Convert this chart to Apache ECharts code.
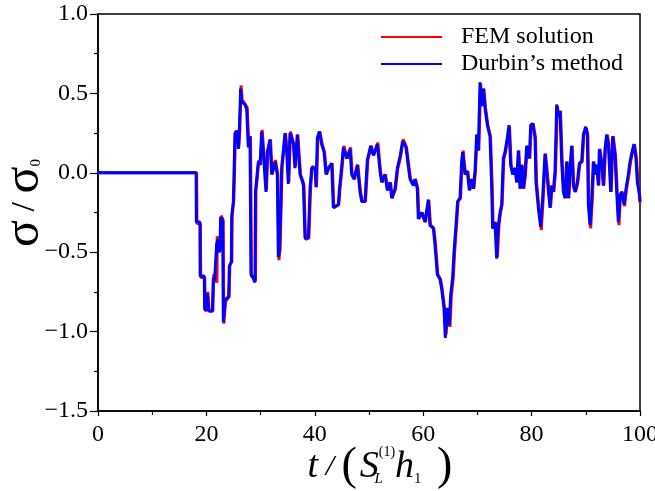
<!DOCTYPE html>
<html><head><meta charset="utf-8">
<script src="https://cdn.jsdelivr.net/npm/echarts@6/dist/echarts.min.js"></script>
<style>html,body{margin:0;padding:0;background:#fff}#c{width:655px;height:491px}</style>
</head><body><div id="c"></div>
<script>
const seriesNames = ['FEM solution', 'Durbin\u2019s method'];
const seriesColors = ['#ff0000', '#0000ff'];
const xLimits = [0, 100];
const xTickStep = 20;
const yLimits = [-1.5, 1.0];
const yTickStep = 0.5;

// Durbin's method (blue)
const durbin = [
[0,0],[18.1,0],[18.15,-0.31],[18.8,-0.31],[18.85,-0.65],[19.6,-0.65],[19.68,-0.86],[20.1,-0.86],[20.17,-0.76],[20.3,-0.76],
[20.41,-0.87],[21.1,-0.87],[21.28,-0.66],[21.5,-0.68],[21.85,-0.69],[21.89,-0.45],[22.1,-0.42],[22.3,-0.50],[22.5,-0.48],[22.63,-0.28],
[23.0,-0.30],[23.12,-0.94],[23.45,-0.80],[24.1,-0.78],[24.23,-0.59],[24.6,-0.56],[24.66,-0.28],[24.97,-0.18],[25.27,0.25],[25.7,0.26],
[25.89,0.15],[26.07,0.26],[26.32,0.53],[26.5,0.45],[27.1,0.43],[27.43,0.40],[27.73,0.16],[28.04,0.23],[28.22,-0.64],[28.6,-0.66],
[28.96,-0.69],[29.05,-0.12],[29.27,-0.04],[29.58,0.07],[29.9,0.05],[30.19,0.26],[30.5,0.13],[30.99,-0.12],[31.24,0.13],[31.73,0.21],
[32.04,-0.01],[32.65,0.07],[33.08,-0.01],[33.27,-0.53],[33.5,-0.48],[33.88,0.03],[34.5,0.25],[34.81,0.13],[35.11,-0.07],[35.42,0.25],
[36.04,0.18],[36.34,0.03],[36.77,0.24],[37.27,-0.01],[37.76,-0.06],[37.9,-0.08],[38.19,-0.41],[38.81,-0.41],[39.12,-0.10],[39.42,0.03],
[40.04,0.03],[40.22,-0.09],[40.47,0.22],[40.84,0.26],[41.27,0.18],[41.7,0.13],[42.07,-0.01],[42.5,0.03],[43.11,0.06],[43.42,-0.22],
[44.34,-0.20],[44.53,-0.11],[44.96,0.04],[45.27,0.16],[45.88,0.09],[46.5,0.15],[46.8,-0.01],[47.23,-0.04],[47.85,0.05],[48.34,-0.12],
[48.65,-0.18],[49.26,-0.18],[49.69,0.08],[50.31,0.17],[50.8,0.11],[51.54,0.18],[52.03,0.01],[52.34,-0.06],[52.95,-0.01],[53.38,-0.11],
[53.88,-0.06],[54.18,-0.16],[54.8,-0.10],[55.23,0.03],[55.72,0.10],[56.21,0.20],[56.83,0.16],[57.26,0.04],[57.57,-0.04],[58.18,-0.08],
[58.48,-0.04],[58.91,-0.10],[59.1,-0.29],[59.71,-0.25],[60.33,-0.31],[60.94,-0.17],[61.25,-0.33],[61.87,-0.35],[62.17,-0.45],[62.6,-0.64],
[63.1,-0.67],[63.4,-0.73],[63.83,-0.85],[64.08,-1.04],[64.45,-0.85],[64.82,-0.96],[65.06,-0.77],[65.43,-0.66],[65.68,-0.50],[66.05,-0.33],
[66.35,-0.18],[66.79,-0.16],[67.09,0.07],[67.28,0.13],[67.71,-0.01],[68.14,0.01],[68.51,-0.11],[68.94,-0.04],[69.25,-0.10],[69.55,0.01],
[69.86,0.24],[70.17,0.14],[70.48,0.57],[70.78,0.42],[71.09,0.53],[71.4,0.41],[71.83,0.30],[72.32,0.23],[72.63,-0.08],[72.81,-0.35],
[73.24,-0.31],[73.55,-0.54],[73.86,-0.33],[74.17,-0.25],[74.47,-0.20],[74.78,0.09],[75.09,0.13],[75.52,0.22],[75.83,0.30],[76.13,0.05],
[76.5,-0.01],[76.93,0.03],[77.24,-0.06],[77.55,0.14],[77.86,-0.10],[78.16,0.05],[78.47,-0.10],[78.78,-0.01],[79.09,0.17],[79.58,0.09],
[79.83,0.30],[80.2,0.31],[80.63,0.22],[80.81,-0.06],[81.24,-0.22],[81.67,-0.34],[82.04,-0.16],[82.47,0.12],[82.78,0.01],[83.09,-0.11],
[83.4,-0.22],[83.7,-0.08],[84.01,-0.12],[84.32,0.01],[84.63,0.43],[84.93,0.35],[85.24,0.39],[85.55,0.07],[85.86,-0.12],[86.16,-0.16],
[86.47,0.07],[86.78,-0.16],[87.09,0.03],[87.39,0.17],[87.7,-0.08],[88.01,-0.12],[88.44,-0.06],[88.81,0.06],[89.24,0.07],[89.55,0.24],
[89.98,0.29],[90.28,0.24],[90.47,-0.20],[90.78,-0.33],[91.08,-0.18],[91.39,0.07],[91.7,-0.01],[92.01,0.05],[92.31,-0.08],[92.5,0.15],
[92.93,0.05],[93.24,-0.08],[93.54,0.15],[93.85,0.24],[94.16,0.18],[94.59,-0.12],[94.96,0.23],[95.39,0.11],[95.7,-0.12],[96.0,-0.31],
[96.31,-0.14],[96.62,-0.12],[97.05,-0.20],[97.42,-0.10],[97.85,-0.01],[98.16,0.07],[98.52,0.13],[98.89,0.18],[99.26,0.09],[99.51,-0.06],
[99.88,-0.13],[100,-0.18]
];

// FEM solution (red)
const fem = [
[0,0],[18.2,0],[18.25,-0.32],[18.9,-0.32],[18.95,-0.66],[19.7,-0.66],[19.78,-0.87],[20.2,-0.86],[20.27,-0.75],[20.4,-0.76],
[20.51,-0.87],[21.2,-0.87],[21.35,-0.64],[21.6,-0.67],[21.95,-0.69],[21.99,-0.40],[22.2,-0.43],[22.4,-0.50],[22.6,-0.47],[22.73,-0.27],
[23.1,-0.30],[23.22,-0.95],[23.55,-0.81],[24.2,-0.78],[24.33,-0.58],[24.7,-0.56],[24.76,-0.27],[25.07,-0.17],[25.37,0.26],[25.8,0.26],
[25.99,0.16],[26.17,0.27],[26.4,0.55],[26.6,0.46],[27.2,0.43],[27.53,0.41],[27.83,0.17],[28.14,0.23],[28.32,-0.65],[28.7,-0.66],
[29.06,-0.68],[29.15,-0.11],[29.37,-0.04],[29.68,0.08],[30.0,0.05],[30.29,0.27],[30.6,0.13],[31.09,-0.11],[31.34,0.14],[31.83,0.21],
[32.14,-0.01],[32.75,0.08],[33.18,-0.01],[33.37,-0.55],[33.6,-0.48],[33.98,0.04],[34.6,0.25],[34.91,0.13],[35.21,-0.06],[35.52,0.26],
[36.14,0.18],[36.44,0.04],[36.87,0.24],[37.37,-0.01],[37.86,-0.06],[38.0,-0.08],[38.29,-0.42],[38.91,-0.41],[39.22,-0.10],[39.52,0.04],
[40.14,0.03],[40.32,-0.09],[40.57,0.22],[40.94,0.26],[41.37,0.18],[41.8,0.13],[42.17,-0.01],[42.6,0.03],[43.21,0.06],[43.52,-0.22],
[44.44,-0.20],[44.63,-0.11],[45.06,0.04],[45.37,0.17],[45.98,0.09],[46.6,0.16],[46.9,-0.01],[47.33,-0.04],[47.95,0.05],[48.44,-0.12],
[48.75,-0.18],[49.36,-0.18],[49.79,0.08],[50.41,0.17],[50.9,0.11],[51.64,0.19],[52.13,0.01],[52.44,-0.06],[53.05,-0.01],[53.48,-0.11],
[53.98,-0.06],[54.28,-0.16],[54.9,-0.10],[55.33,0.03],[55.82,0.10],[56.31,0.21],[56.93,0.16],[57.36,0.04],[57.67,-0.04],[58.28,-0.08],
[58.58,-0.04],[59.01,-0.10],[59.2,-0.29],[59.81,-0.25],[60.43,-0.31],[61.04,-0.17],[61.35,-0.33],[61.97,-0.35],[62.27,-0.45],[62.7,-0.64],
[63.2,-0.67],[63.5,-0.73],[63.93,-0.85],[64.2,-1.02],[64.55,-0.87],[64.95,-0.97],[65.18,-0.78],[65.55,-0.66],[65.8,-0.50],[66.15,-0.33],
[66.45,-0.18],[66.89,-0.16],[67.19,0.07],[67.38,0.14],[67.81,-0.01],[68.24,0.01],[68.61,-0.11],[69.04,-0.04],[69.35,-0.10],[69.65,0.01],
[69.96,0.24],[70.27,0.14],[70.6,0.56],[70.9,0.42],[71.2,0.53],[71.5,0.41],[71.93,0.30],[72.42,0.23],[72.73,-0.08],[72.91,-0.35],
[73.34,-0.31],[73.7,-0.53],[73.98,-0.33],[74.27,-0.25],[74.57,-0.20],[74.88,0.09],[75.19,0.13],[75.62,0.22],[75.93,0.29],[76.23,0.05],
[76.6,-0.01],[77.03,0.03],[77.34,-0.06],[77.65,0.14],[77.96,-0.10],[78.26,0.05],[78.57,-0.10],[78.88,-0.01],[79.19,0.17],[79.68,0.09],
[79.93,0.30],[80.3,0.31],[80.73,0.22],[80.91,-0.06],[81.34,-0.22],[81.79,-0.36],[82.14,-0.16],[82.57,0.12],[82.88,0.01],[83.19,-0.11],
[83.5,-0.22],[83.8,-0.08],[84.11,-0.12],[84.42,0.01],[84.75,0.42],[85.05,0.35],[85.34,0.39],[85.65,0.07],[85.96,-0.12],[86.26,-0.16],
[86.57,0.07],[86.88,-0.16],[87.19,0.03],[87.49,0.17],[87.8,-0.08],[88.11,-0.12],[88.54,-0.06],[88.91,0.06],[89.34,0.07],[89.65,0.24],
[90.1,0.28],[90.38,0.24],[90.57,-0.20],[90.9,-0.35],[91.18,-0.18],[91.49,0.07],[91.8,-0.01],[92.11,0.05],[92.41,-0.08],[92.6,0.15],
[93.03,0.05],[93.34,-0.08],[93.64,0.15],[93.95,0.24],[94.26,0.18],[94.69,-0.12],[95.06,0.23],[95.49,0.11],[95.8,-0.12],[96.12,-0.33],
[96.41,-0.14],[96.72,-0.12],[97.15,-0.21],[97.52,-0.10],[97.95,-0.01],[98.26,0.07],[98.62,0.13],[98.99,0.18],[99.36,0.09],[99.61,-0.06],
[99.95,-0.15],[100,-0.19]
];

const FONT = '"Liberation Serif", "Times New Roman", serif';
const chart = echarts.init(document.getElementById('c'), null, {renderer: 'canvas'});
function fmtY(v) {
  if (Math.abs(v) < 1e-9) return '0.0';
  return v.toFixed(1).replace('-', '\u2212');
}
chart.setOption({
  animation: false,
  backgroundColor: '#fff',
  grid: {left: 98, right: 15, top: 14, bottom: 80, outerBoundsMode: 'none', containLabel: false,
         show: true, borderColor: '#000', borderWidth: 1.5, backgroundColor: 'transparent'},
  legend: {
    orient: 'vertical', left: 381, top: 25, padding: 0, itemGap: 3,
    itemWidth: 61, itemHeight: 2, icon: 'rect',
    data: seriesNames,
    textStyle: {fontFamily: FONT, fontSize: 24, color: '#000', padding: [0, 0, 0, 14]}
  },
  xAxis: {
    type: 'value', min: xLimits[0], max: xLimits[1], interval: xTickStep,
    axisLine: {show: true, onZero: false, lineStyle: {color: '#000', width: 1.5}},
    axisTick: {show: true, length: 5, lineStyle: {color: '#000', width: 1.2}},
    minorTick: {show: true, splitNumber: 2, length: 4, lineStyle: {color: '#000', width: 1.2}},
    splitLine: {show: false},
    axisLabel: {margin: 12, fontFamily: FONT, fontSize: 24, color: '#000'},
    name: '{i|t}{n| / }{p1|(}{i|S}{L|L}{sup|(1)}{i|h}{sub|1}{p| )}',
    nameLocation: 'middle', nameGap: 31, nameMoveOverlap: false,
    nameTextStyle: {
      padding: [0, 0, 0, 22],
      rich: {
        i: {fontFamily: FONT, fontStyle: 'italic', fontSize: 38, color: '#000', lineHeight: 50},
        n: {fontFamily: FONT, fontStyle: 'italic', fontSize: 30, color: '#000', lineHeight: 50},
        p: {fontFamily: FONT, fontSize: 46, color: '#000', lineHeight: 50},
        p1: {fontFamily: FONT, fontSize: 46, color: '#000', lineHeight: 50, padding: [0, 3, 0, 0]},
        sup: {fontFamily: FONT, fontSize: 14, color: '#000', verticalAlign: 'top', padding: [3, 0, 0, 0]},
        L: {fontFamily: FONT, fontStyle: 'italic', fontSize: 15, color: '#000', verticalAlign: 'bottom', width: 0, align: 'left', padding: [0, 0, 5, 0]},
        sub: {fontFamily: FONT, fontSize: 15, color: '#000', verticalAlign: 'bottom', padding: [0, 4, 5, 0]}
      }
    }
  },
  yAxis: {
    type: 'value', min: yLimits[0], max: yLimits[1], interval: yTickStep,
    axisLine: {show: true, onZero: false, lineStyle: {color: '#000', width: 1.5}},
    axisTick: {show: true, length: 8, lineStyle: {color: '#000', width: 1.2}},
    minorTick: {show: true, splitNumber: 2, length: 4, lineStyle: {color: '#000', width: 1.2}},
    splitLine: {show: false},
    axisLabel: {margin: 10, fontFamily: FONT, fontSize: 24, color: '#000', formatter: fmtY},
    name: '{s|\u03c3}{n| / }{s|\u03c3}{sub|0}',
    nameLocation: 'middle', nameGap: 48, nameMoveOverlap: false,
    nameTextStyle: {
      padding: [0, 0, 0, 19],
      rich: {
        s: {fontFamily: FONT, fontSize: 50, color: '#000', lineHeight: 50},
        n: {fontFamily: FONT, fontSize: 34, color: '#000', lineHeight: 50},
        sub: {fontFamily: FONT, fontSize: 15, color: '#000', verticalAlign: 'bottom', padding: [0, 0, 6, 0]}
      }
    }
  },
  series: [
    {name: seriesNames[0], type: 'line', data: fem, showSymbol: false, symbol: 'none',
     lineStyle: {color: seriesColors[0], width: 3}, itemStyle: {color: seriesColors[0]}},
    {name: seriesNames[1], type: 'line', data: durbin, showSymbol: false, symbol: 'none',
     lineStyle: {color: seriesColors[1], width: 3}, itemStyle: {color: seriesColors[1]}}
  ]
});
</script>
</body></html>
